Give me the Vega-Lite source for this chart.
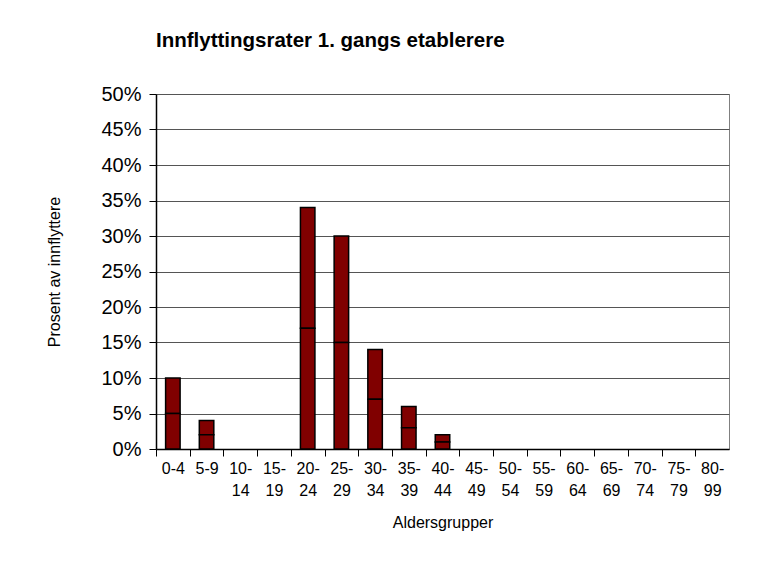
{
  "$schema": "https://vega.github.io/schema/vega-lite/v6.json",
  "width": 573,
  "height": 355,
  "autosize": {"type": "none"},
  "padding": {"left": 156, "top": 94, "right": 28, "bottom": 112},
  "background": "white",
  "title": {
    "text": "Innflyttingsrater 1. gangs etablerere",
    "anchor": "start",
    "frame": "group",
    "font": "Liberation Sans",
    "fontSize": 20.5,
    "fontWeight": "bold",
    "color": "#000000",
    "offset": 33
  },
  "config": {
    "view": {"stroke": "#808080", "strokeWidth": 1},
    "font": "Liberation Sans"
  },
  "data": {
    "values": [
      {"alder": "0-4", "del": "a", "prosent": 5},
      {"alder": "0-4", "del": "b", "prosent": 5},
      {"alder": "5-9", "del": "a", "prosent": 2},
      {"alder": "5-9", "del": "b", "prosent": 2},
      {"alder": "20-24", "del": "a", "prosent": 17},
      {"alder": "20-24", "del": "b", "prosent": 17},
      {"alder": "25-29", "del": "a", "prosent": 15},
      {"alder": "25-29", "del": "b", "prosent": 15},
      {"alder": "30-34", "del": "a", "prosent": 7},
      {"alder": "30-34", "del": "b", "prosent": 7},
      {"alder": "35-39", "del": "a", "prosent": 3},
      {"alder": "35-39", "del": "b", "prosent": 3},
      {"alder": "40-44", "del": "a", "prosent": 1},
      {"alder": "40-44", "del": "b", "prosent": 1}
    ]
  },
  "mark": {"type": "bar", "color": "#800000", "stroke": "#000000", "strokeWidth": 1.5},
  "encoding": {
    "x": {
      "field": "alder",
      "type": "nominal",
      "sort": null,
      "scale": {
        "domain": ["0-4", "5-9", "10-14", "15-19", "20-24", "25-29", "30-34", "35-39", "40-44", "45-49", "50-54", "55-59", "60-64", "65-69", "70-74", "75-79", "80-99"],
        "paddingInner": 0.57,
        "paddingOuter": 0.285
      },
      "axis": {
        "title": "Aldersgrupper",
        "titleFontSize": 16,
        "titleFontWeight": "normal",
        "titleColor": "#000000",
        "titlePadding": 16,
        "labelAngle": 0,
        "labelFontSize": 16,
        "labelColor": "#000000",
        "labelPadding": 4,
        "labelLineHeight": 22,
        "labelExpr": "length(datum.value) > 3 ? [slice(datum.value, 0, indexof(datum.value, '-') + 1), slice(datum.value, indexof(datum.value, '-') + 1)] : datum.value",
        "tickOffset": -16.85,
        "labelOffset": 16.85,
        "tickColor": "#000000",
        "tickSize": 7,
        "domainColor": "#000000",
        "domainWidth": 1.5,
        "grid": false
      }
    },
    "y": {
      "field": "prosent",
      "type": "quantitative",
      "stack": "zero",
      "scale": {"domain": [0, 50]},
      "axis": {
        "title": "Prosent av innflyttere",
        "titleFontSize": 16,
        "titleFontWeight": "normal",
        "titleColor": "#000000",
        "titlePadding": 38,
        "values": [0, 5, 10, 15, 20, 25, 30, 35, 40, 45, 50],
        "labelExpr": "datum.value + '%'",
        "labelFontSize": 20,
        "labelColor": "#000000",
        "labelPadding": 8,
        "tickColor": "#000000",
        "tickSize": 7,
        "domainColor": "#000000",
        "domainWidth": 1.5,
        "grid": true,
        "gridColor": "#555555",
        "gridWidth": 1
      }
    },
    "detail": {"field": "del"}
  }
}
